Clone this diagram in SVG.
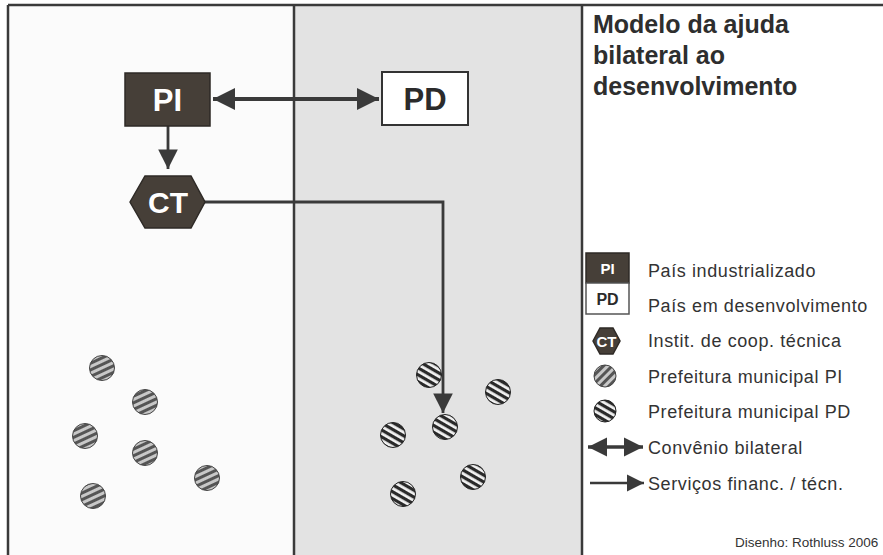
<svg xmlns="http://www.w3.org/2000/svg" width="883" height="555" viewBox="0 0 883 555">
<style>
.frame{stroke:#3a3a3a;stroke-width:2.5;fill:none}
.lbl{font-family:"Liberation Sans",Arial,sans-serif;font-weight:bold;text-anchor:middle}
.leg{font-family:"Liberation Sans",Arial,sans-serif;font-size:18px;fill:#333;letter-spacing:0.6px}
.title{font-family:"Liberation Sans",Arial,sans-serif;font-size:25px;font-weight:bold;fill:#2e2e2e}
.con{stroke:#3a3a3a;fill:none}
.dark{fill:#463f38;stroke:#2e2a26;stroke-width:1.5}
.pi{fill:url(#stripePI);stroke:#444;stroke-width:1}
.pd{fill:url(#stripePD);stroke:#222;stroke-width:1}
</style>
<defs>
<pattern id="stripePI" width="6" height="6" patternUnits="userSpaceOnUse" patternTransform="rotate(-25)">
<rect width="6" height="6" fill="#c8c8c8"/><rect width="6" height="3" fill="#555"/>
</pattern>
<pattern id="stripePD" width="6" height="6" patternUnits="userSpaceOnUse" patternTransform="rotate(30)">
<rect width="6" height="6" fill="#f2f2f2"/><rect width="6" height="3.2" fill="#2a2a2a"/>
</pattern>
<pattern id="stripePIleg" width="6" height="6" patternUnits="userSpaceOnUse" patternTransform="rotate(-45)">
<rect width="6" height="6" fill="#c8c8c8"/><rect width="6" height="3" fill="#555"/>
</pattern>
<marker id="ah" viewBox="0 0 10 10" refX="10" refY="5" markerWidth="5.5" markerHeight="5.5" orient="auto-start-reverse" markerUnits="strokeWidth">
<path d="M0,0 L10,5 L0,10 Z" fill="#3a3a3a"/>
</marker>
<marker id="ah2" viewBox="0 0 10 10" refX="10" refY="5" markerWidth="7" markerHeight="7" orient="auto" markerUnits="strokeWidth">
<path d="M0,0 L10,5 L0,10 Z" fill="#3a3a3a"/>
</marker>
</defs>

<!-- panels -->
<rect x="0" y="0" width="883" height="555" fill="#ffffff"/>
<rect x="9" y="6" width="285" height="549" fill="#fbfbfb"/>
<rect x="294" y="6" width="288" height="549" fill="#e3e3e3"/>
<line class="frame" x1="8" y1="5" x2="883" y2="5" stroke="#555"/>
<line class="frame" x1="8" y1="5" x2="8" y2="555"/>
<line class="frame" x1="294" y1="5" x2="294" y2="555"/>
<line class="frame" x1="582" y1="5" x2="582" y2="555" stroke="#666"/>

<!-- connectors -->
<g id="connectors">
<line class="con" x1="213" y1="99" x2="379" y2="99" stroke-width="4" marker-start="url(#ah)" marker-end="url(#ah)"/>
<line class="con" x1="168" y1="126" x2="168" y2="169" stroke-width="2.8" marker-end="url(#ah2)"/>
<polyline class="con" points="204,202 443,202 443,413" stroke-width="2.8" marker-end="url(#ah2)"/>
</g>

<g id="node-PI">
<rect class="dark" x="125" y="73" width="85" height="53"/>
<text class="lbl" x="167.5" y="111" font-size="31" fill="#ffffff">PI</text>
</g>
<g id="node-PD">
<rect x="382" y="72" width="86" height="53" fill="#ffffff" stroke="#333" stroke-width="2"/>
<text class="lbl" x="425" y="110" font-size="31" fill="#2b2b2b">PD</text>
</g>
<g id="node-CT">
<polygon class="dark" points="130,202 145,176 191,176 205,202 191,228 145,228"/>
<text class="lbl" x="168" y="213" font-size="30" fill="#ffffff">CT</text>
</g>

<g id="municipios-PI">
<circle class="pi" cx="102" cy="368" r="12.5"/>
<circle class="pi" cx="145" cy="402" r="12.5"/>
<circle class="pi" cx="85" cy="436" r="12.5"/>
<circle class="pi" cx="145" cy="453" r="12.5"/>
<circle class="pi" cx="207" cy="478" r="12.5"/>
<circle class="pi" cx="93" cy="496" r="12.5"/>
</g>
<g id="municipios-PD">
<circle class="pd" cx="429" cy="375" r="12.5"/>
<circle class="pd" cx="498" cy="392" r="12.5"/>
<circle class="pd" cx="445" cy="427" r="12.5"/>
<circle class="pd" cx="393" cy="435" r="12.5"/>
<circle class="pd" cx="473" cy="477" r="12.5"/>
<circle class="pd" cx="403" cy="494" r="12.5"/>
</g>

<g id="title">
<text class="title" x="593" y="33">Modelo da ajuda</text>
<text class="title" x="593" y="64">bilateral ao</text>
<text class="title" x="593" y="95">desenvolvimento</text>
</g>

<g id="legend">
<rect class="dark" x="586" y="253" width="43" height="30"/>
<text class="lbl" x="607.5" y="274" font-size="15" fill="#ffffff">PI</text>
<rect x="586" y="283" width="43" height="31" fill="#ffffff" stroke="#555" stroke-width="1.5"/>
<text class="lbl" x="607.5" y="305" font-size="16" fill="#2b2b2b">PD</text>
<polygon class="dark" points="593,341 600,328 613,328 620,341 613,354 600,354"/>
<text class="lbl" x="606.5" y="347" font-size="15" fill="#ffffff">CT</text>
<circle cx="605" cy="376" r="11" fill="url(#stripePIleg)" stroke="#444" stroke-width="1"/>
<circle class="pd" cx="605" cy="411" r="11"/>
<line class="con" x1="588" y1="447" x2="643" y2="447" stroke-width="3.5" marker-start="url(#ah)" marker-end="url(#ah)"/>
<line class="con" x1="590" y1="483" x2="644" y2="483" stroke-width="2.5" marker-end="url(#ah2)"/>
<text class="leg" x="648" y="277">País industrializado</text>
<text class="leg" x="648" y="312">País em desenvolvimento</text>
<text class="leg" x="648" y="347">Instit. de coop. técnica</text>
<text class="leg" x="648" y="383">Prefeitura municipal PI</text>
<text class="leg" x="648" y="418">Prefeitura municipal PD</text>
<text class="leg" x="648" y="454">Convênio bilateral</text>
<text class="leg" x="648" y="490">Serviços financ. / técn.</text>
<text x="735" y="547" font-family="'Liberation Sans',Arial,sans-serif" font-size="13.5" fill="#333">Disenho: Rothluss 2006</text>
</g>
</svg>
